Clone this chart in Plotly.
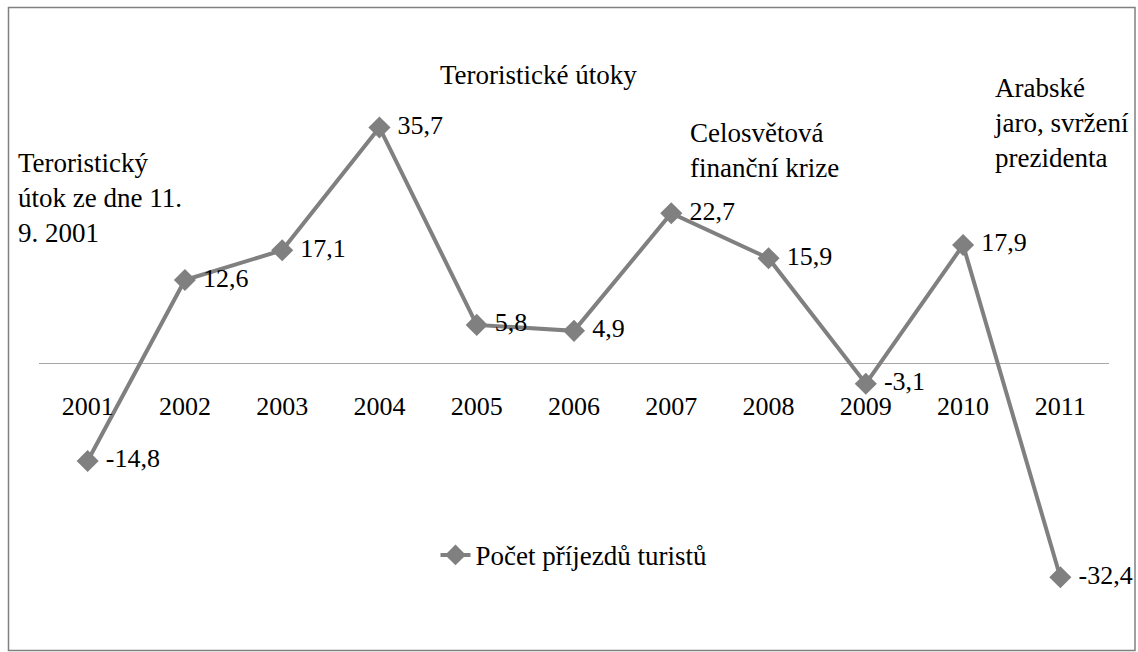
import plotly.graph_objects as go

years = ["2001", "2002", "2003", "2004", "2005", "2006", "2007", "2008", "2009", "2010", "2011"]
values = [-14.8, 12.6, 17.1, 35.7, 5.8, 4.9, 22.7, 15.9, -3.1, 17.9, -32.4]
labels = [f"{v:.1f}".replace(".", ",") for v in values]
series_name = "Počet příjezdů turistů"

W, H = 1138, 652
L, R = 39, 29
T = 66
B = H - 600.6
YMIN, YMAX = -36, 45
FONT = "Liberation Serif"
FS = 26
FS_NOTE = 27
GRAY = "#808080"

fig = go.Figure()
fig.add_trace(go.Scatter(
    x=years, y=values, mode="lines+markers+text", name=series_name,
    line=dict(color=GRAY, width=4),
    marker=dict(symbol="diamond", size=17, color=GRAY),
    text=[" " + t for t in labels], textposition="middle right",
    textfont=dict(family=FONT, size=FS, color="black"),
    cliponaxis=False,
))

plot_h = H - T - B
zero_frac = (0 - YMIN) / (YMAX - YMIN)


def px_x(px):
    return (px - L) / (W - L - R)


def px_y(py):
    return (H - B - py) / plot_h


fig.update_layout(
    width=W, height=H,
    margin=dict(l=L, r=R, t=T, b=B),
    paper_bgcolor="white", plot_bgcolor="white",
    font=dict(family=FONT, size=FS, color="black"),
    xaxis=dict(type="category", range=[-0.5, 10.5], anchor="free", position=zero_frac,
               showline=False, showgrid=False, ticks="", ticklabelstandoff=25,
               tickfont=dict(family=FONT, size=FS, color="black")),
    yaxis=dict(range=[YMIN, YMAX], showgrid=False, showticklabels=False,
               zeroline=True, zerolinecolor="#a6a6a6", zerolinewidth=1, ticks=""),
    showlegend=True,
    legend=dict(x=0.5, xanchor="center", y=px_y(555), yanchor="middle",
                font=dict(family=FONT, size=FS_NOTE), bgcolor="rgba(0,0,0,0)"),
)

annots = [
    ("Teroristický<br>útok ze dne 11.<br>9. 2001", 16, 198, "left"),
    ("Teroristické útoky", 538, 75, "center"),
    ("Celosvětová<br>finanční krize", 688, 150, "left"),
    ("Arabské<br>jaro, svržení<br>prezidenta", 992, 123, "left"),
]
for txt, x, y, al in annots:
    fig.add_annotation(text=txt, x=px_x(x), y=px_y(y), xref="paper", yref="paper",
                       xanchor="left" if al == "left" else "center", yanchor="middle",
                       align=al, showarrow=False,
                       font=dict(family=FONT, size=FS_NOTE, color="black"))

fig.add_shape(type="rect", xref="paper", yref="paper",
              x0=px_x(8.5), x1=px_x(1135), y0=px_y(650), y1=px_y(7.5),
              line=dict(color=GRAY, width=1.5), fillcolor="rgba(0,0,0,0)", layer="below")

fig.write_html("out.html", config={"displayModeBar": False},
               post_script="document.body.style.margin='0';document.body.style.overflow='hidden';")
